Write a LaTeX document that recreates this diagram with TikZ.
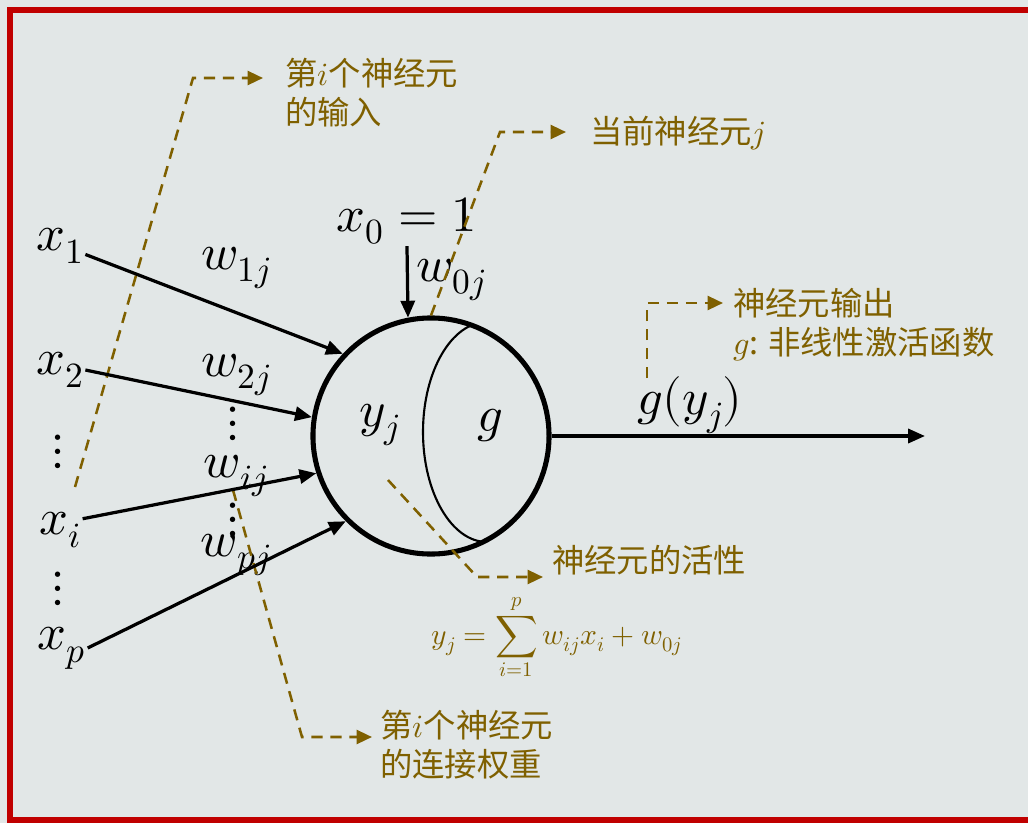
\documentclass[tikz,border=0pt]{standalone}
\usepackage{fontspec}
\usepackage{unicode-math}
\newfontfamily\cjk{Noto Sans CJK SC}
\usetikzlibrary{positioning,arrows.meta,calc}
\definecolor{bgc}{RGB}{226,231,231}
\definecolor{olivec}{RGB}{127,96,0}
\definecolor{framec}{RGB}{192,0,0}
\tikzset{
  sig/.style={-{Triangle[length=12pt,width=10pt]}, line width=2.3pt},
  leader/.style={-{Triangle[length=11pt,width=10pt]}, line width=1.8pt, olivec, dash pattern=on 8pt off 5.5pt},
  neuron/.style={draw, circle, line width=3.6pt, minimum size=5.9cm, inner sep=0pt},
  sym/.style={inner sep=1pt, font=\fontsize{36}{40}\selectfont},
  note/.style={olivec, align=left, inner sep=0pt, font=\cjk\fontsize{23}{27.5}\selectfont},
  redframe/.style={framec, line width=4.3pt}
}

\begin{document}
\begin{tikzpicture}[x=0.025cm, y=-0.025cm]
  \useasboundingbox (0,0) rectangle (1028,823);
  \fill[bgc] (0,0) rectangle (1028,823);
  \draw[redframe] (1040,10) -| (10,820) -- (1040,820);

  % neuron body
  \node[neuron] (cell) at (431,436) {};
  \begin{scope}
    \clip (cell.center) circle [radius=118];
    \draw[line width=1.5pt] (487,432) ellipse [x radius=64, y radius=110];
  \end{scope}
  \node[sym] (yj) at (380,425) {$y_j$};
  \node[sym] (gf) at (490,425) {$g$};

  % inputs
  \node[sym] (x1) at (60,246) {$x_1$};
  \node[sym] (x2) at (60,370) {$x_2$};
  \node[sym] (vx1) at (58,452) {$\vdots$};
  \node[sym] (xi) at (60,530) {$x_i$};
  \node[sym] (vx2) at (58,589) {$\vdots$};
  \node[sym] (xp) at (62,648) {$x_p$};
  \node[sym] (x0) at (407,221) {$x_0=1$};

  \node[sym] (w1) at (236,268) {$w_{1j}$};
  \node[sym] (w2) at (236,375) {$w_{2j}$};
  \node[sym] (vw1) at (233,424) {$\vdots$};
  \node[sym] (wi) at (236,476) {$w_{ij}$};
  \node[sym] (vw2) at (233,520) {$\vdots$};
  \node[sym] (wp) at (236,555) {$w_{pj}$};
  \node[sym] (w0) at (451,280) {$w_{0j}$};

  \coordinate (outEnd) at (925,436);
  \node[sym] (gy) at (690,405) {$g(y_j)$};

  % notes
  \node[note, anchor=north west] (inLbl) at (285,58) {第$i$个神经元\\的输入};
  \node[note, anchor=west] (curLbl) at (590,133) {当前神经元$j$};
  \node[note, anchor=north west] (outLbl) at (733,288) {神经元输出\\$g$: 非线性激活函数};
  \node[note, anchor=west] (actLbl) at (552,560) {神经元的活性};
  \node[note, anchor=north west] (wLbl) at (380,710) {第$i$个神经元\\的连接权重};
  \node[olivec, font=\fontsize{21}{24}\selectfont] (act) at (557,637)
    {$\displaystyle y_j=\sum_{i=1}^{p} w_{ij}x_i+w_{0j}$};

  \coordinate (inS) at (75,487);
  \coordinate (inC) at (193,78);
  \coordinate (curC) at (500,132);
  \coordinate (outS) at (647,378);
  \coordinate (outC) at (647,303);
  \coordinate (actS) at (388,480);
  \coordinate (actC) at (477,577);
  \coordinate (wS) at (233,490);
  \coordinate (wC) at (302,737);

  \draw[leader] (inS) -- (inC) -- ($(inLbl.west |- inC)+(-22,0)$);
  \draw[leader] (cell.north) -- (curC) -- ($(curLbl.west |- curC)+(-24,0)$);
  \draw[leader] (outS) -- (outC) -- ($(outLbl.west |- outC)+(-10,0)$);
  \draw[leader] (actS) -- (actC) -- ($(actLbl.west |- actC)+(-9,0)$);
  \draw[leader] (wS) -- (wC) -- ($(wLbl.west |- wC)+(-8,0)$);

  \draw[sig] ([yshift=-6pt]x1.east) -- (cell.137);
  \draw[sig] (x2.east) -- (cell.171);
  \draw[sig] ([yshift=8pt]xi.east) -- (cell.198);
  \draw[sig] (xp.east) -- (cell.225);
  \draw[sig] (x0.south) -- (cell.101);
  \draw[sig] (cell.east) -- (outEnd);
\end{tikzpicture}
\end{document}
